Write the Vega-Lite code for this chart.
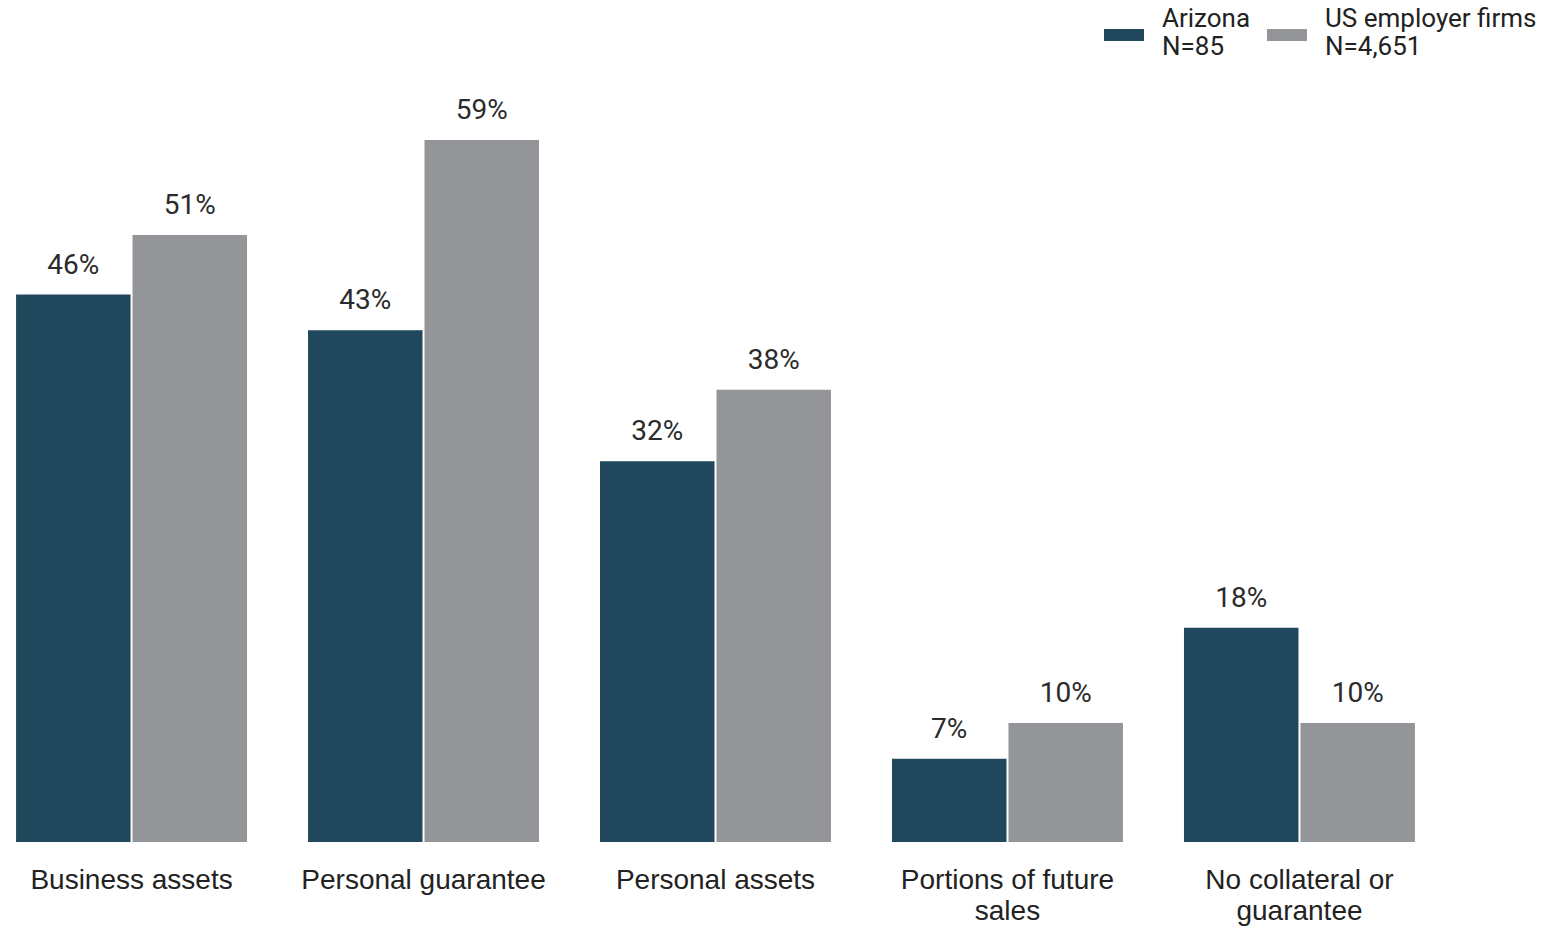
{
  "$schema": "https://vega.github.io/schema/vega-lite/v6.json",
  "width": 1431,
  "height": 714,
  "autosize": {"type": "none"},
  "padding": {"left": 0, "top": 128, "right": 119, "bottom": 85},
  "background": "white",
  "config": {"view": {"stroke": null}},
  "data": {
    "values": [
      {"category": "Business assets", "series": "Arizona", "value": 0.46},
      {"category": "Business assets", "series": "US employer firms", "value": 0.51},
      {"category": "Personal guarantee", "series": "Arizona", "value": 0.43},
      {"category": "Personal guarantee", "series": "US employer firms", "value": 0.59},
      {"category": "Personal assets", "series": "Arizona", "value": 0.32},
      {"category": "Personal assets", "series": "US employer firms", "value": 0.38},
      {"category": "Portions of future sales", "series": "Arizona", "value": 0.07},
      {"category": "Portions of future sales", "series": "US employer firms", "value": 0.10},
      {"category": "No collateral or guarantee", "series": "Arizona", "value": 0.18},
      {"category": "No collateral or guarantee", "series": "US employer firms", "value": 0.10}
    ]
  },
  "encoding": {
    "x": {
      "field": "category",
      "type": "nominal",
      "sort": null,
      "scale": {"paddingInner": 0.209, "paddingOuter": 0.055},
      "axis": {
        "title": null,
        "domain": false,
        "ticks": false,
        "labelAngle": 0,
        "labelFont": "Liberation Sans",
        "labelFontSize": 28,
        "labelColor": "#222222",
        "labelPadding": 38,
        "labelLineHeight": 31,
        "labelBaseline": "middle",
        "labelLimit": 400,
        "labelExpr": "datum.label == 'Portions of future sales' ? ['Portions of future', 'sales'] : datum.label == 'No collateral or guarantee' ? ['No collateral or', 'guarantee'] : datum.label"
      }
    },
    "xOffset": {
      "field": "series",
      "type": "nominal",
      "sort": ["Arizona", "US employer firms"],
      "scale": {"paddingInner": 0.017}
    },
    "y": {
      "field": "value",
      "type": "quantitative",
      "scale": {"domain": [0, 0.6]},
      "axis": null
    }
  },
  "layer": [
    {
      "mark": {"type": "bar"},
      "encoding": {
        "color": {
          "field": "series",
          "type": "nominal",
          "sort": ["Arizona", "US employer firms"],
          "scale": {"domain": ["Arizona", "US employer firms"], "range": ["#20475c", "#939598"]},
          "legend": {
            "title": null,
            "orient": "none",
            "direction": "horizontal",
            "legendX": 1104,
            "legendY": -129,
            "symbolType": "M-1,0.5H1V1.1H-1Z",
            "symbolSize": 1600,
            "symbolStrokeWidth": 0,
            "labelFont": "Roboto",
            "labelFontSize": 26,
            "labelColor": "#222222",
            "labelLineHeight": 28,
            "labelOffset": 18,
            "columnPadding": 16,
            "labelLimit": 300,
            "labelExpr": "datum.label == 'Arizona' ? ['Arizona', 'N=85'] : ['US employer firms', 'N=4,651']"
          }
        }
      }
    },
    {
      "mark": {"type": "text", "baseline": "bottom", "dy": -15, "font": "Roboto", "fontSize": 28, "color": "#2b2b2b"},
      "encoding": {
        "text": {"field": "value", "type": "quantitative", "format": ".0%"},
        "detail": {"field": "series"}
      }
    }
  ]
}
